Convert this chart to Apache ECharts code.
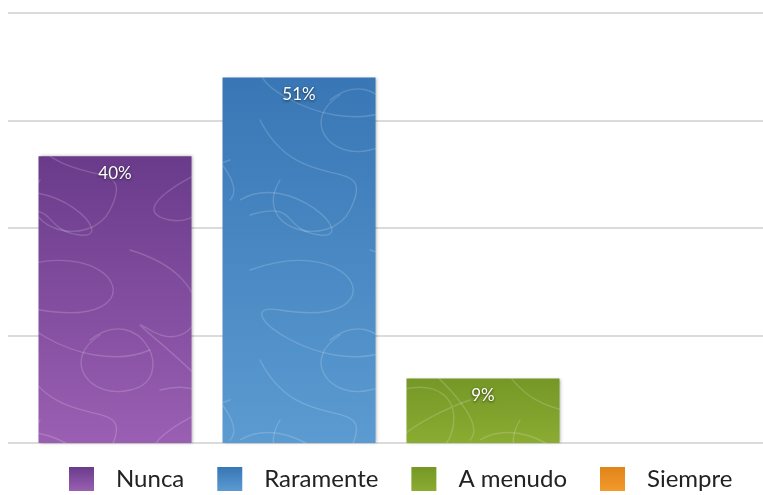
<!DOCTYPE html>
<html>
<head>
<meta charset="utf-8">
<script src="https://cdn.jsdelivr.net/npm/echarts@6/dist/echarts.min.js"></script>
<style>
  html, body { margin: 0; padding: 0; background: #fff; }
  #chart { width: 763px; height: 495px; }
</style>
</head>
<body>
<div id="chart"></div>
<script>
// Answers, in percent
const categories = ['Nunca', 'Raramente', 'A menudo', 'Siempre'];
const values = [40, 51, 9, 0];
const yTicks = [0, 15, 30, 45, 60];

// Top / bottom shades for each answer
const topColors = ['#6a3b8b', '#3876b5', '#759726', '#e0841a'];
const bottomColors = ['#9a5fb2', '#5b9bd1', '#8aac32', '#f39a2c'];

// Light hand-drawn scribble texture laid over the bars
function scribbleTile() {
  const c = document.createElement('canvas');
  c.width = 240; c.height = 240;
  const g = c.getContext('2d');
  g.strokeStyle = 'rgba(255,255,255,0.17)';
  g.lineWidth = 1.4;
  g.lineCap = 'round';
  const loops = [
    [[10, 30], [120, -10, 160, 90, 40, 70], [-20, 60, 80, 140, 150, 110]],
    [[130, 10], [230, 40, 200, 120, 150, 90], [100, 60, 260, 170, 230, 200]],
    [[20, 120], [60, 200, 140, 150, 110, 210], [90, 250, 10, 230, 40, 180]],
    [[160, 150], [240, 130, 220, 230, 170, 220], [120, 210, 200, 170, 230, 160]],
    [[0, 200], [50, 170, 120, 240, 80, 235], [40, 230, 60, 200, 10, 215]],
    [[90, 100], [140, 60, 180, 140, 130, 150], [90, 160, 60, 120, 100, 95]]
  ];
  loops.forEach(l => {
    g.beginPath();
    g.moveTo(l[0][0], l[0][1]);
    for (let i = 1; i < l.length; i++) {
      const p = l[i];
      g.bezierCurveTo(p[0], p[1], p[2], p[3], p[4], p[5]);
    }
    g.stroke();
  });
  return c;
}

const chart = echarts.init(document.getElementById('chart'), null, { renderer: 'canvas' });

const labelFont = 'Lato, "Open Sans", sans-serif';

const colorSeries = categories.map((name, i) => ({
  name: name,
  type: 'bar',
  xAxisIndex: 1,
  yAxisIndex: 1,
  stack: 'answers',
  barWidth: 153,
  data: values.map((v, j) => (j === i ? v : '-')),
  itemStyle: {
    color: new echarts.graphic.LinearGradient(0, 0, 0, 1, [
      { offset: 0, color: topColors[i] },
      { offset: 1, color: bottomColors[i] }
    ]),
    shadowColor: 'rgba(0,0,0,0.3)',
    shadowBlur: 3,
    shadowOffsetX: 1
  },
  label: {
    show: true,
    position: 'insideTop',
    distance: 9,
    color: '#fff',
    fontFamily: labelFont,
    fontSize: 17,
    textShadowColor: 'rgba(0,0,0,0.65)',
    textShadowBlur: 3,
    textShadowOffsetY: 1,
    formatter: p => (p.value ? p.value + '%' : '')
  },
  emphasis: { disabled: true }
}));

const textureSeries = {
  name: 'texture',
  type: 'bar',
  xAxisIndex: 1,
  yAxisIndex: 1,
  barWidth: 153,
  barGap: '-100%',
  data: values,
  silent: true,
  itemStyle: { color: { image: scribbleTile(), repeat: 'repeat' } },
  emphasis: { disabled: true }
};

chart.setOption({
  animation: false,
  backgroundColor: '#fff',
  grid: [
    { left: 8, right: 0, top: 13, bottom: 52 },
    { left: 23, width: 736, top: 13, bottom: 52 }
  ],
  xAxis: [
    { gridIndex: 0, type: 'value', show: false },
    {
      gridIndex: 1, type: 'category', data: categories,
      axisLine: { show: false }, axisTick: { show: false }, axisLabel: { show: false }
    }
  ],
  yAxis: [
    {
      gridIndex: 0, type: 'value', min: yTicks[0], max: yTicks[yTicks.length - 1], interval: 15,
      axisLine: { show: false }, axisTick: { show: false }, axisLabel: { show: false },
      splitLine: { show: true, lineStyle: { color: '#cfcfcf', width: 1.6 } }
    },
    {
      gridIndex: 1, type: 'value', min: yTicks[0], max: yTicks[yTicks.length - 1], interval: 15,
      show: false, splitLine: { show: false }
    }
  ],
  legend: {
    data: categories,
    left: 64,
    top: 462,
    icon: 'rect',
    itemWidth: 25,
    itemHeight: 24,
    itemGap: 33,
    selectedMode: false,
    textStyle: {
      fontFamily: labelFont,
      fontSize: 24,
      color: '#222',
      padding: [0, 0, 0, 17]
    }
  },
  series: [...colorSeries, textureSeries]
});
</script>
</body>
</html>
